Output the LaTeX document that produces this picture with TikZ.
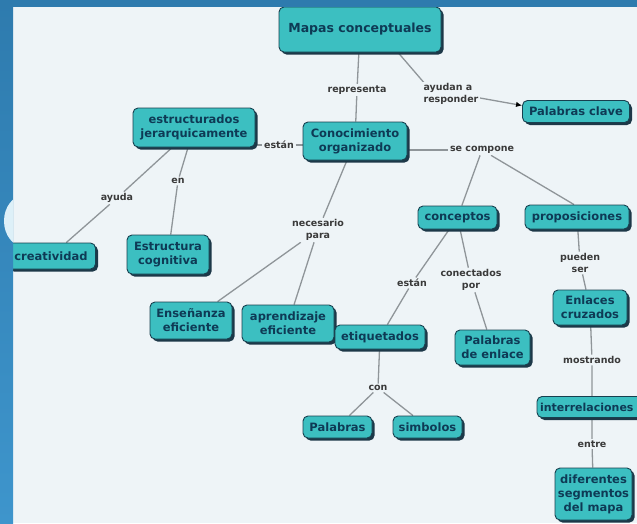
\documentclass[tikz,border=0pt]{standalone}
\usepackage{fontspec}
\setmainfont{DejaVu Sans}
\usetikzlibrary{shadows,arrows.meta}
\definecolor{bgc}{HTML}{EEF4F7}
\definecolor{blueA}{HTML}{2E7BAE}
\definecolor{blueB}{HTML}{3E95CC}
\definecolor{halo}{HTML}{DDF0F8}
\definecolor{boxfill}{HTML}{3CBFC1}
\definecolor{boxline}{HTML}{17404F}
\definecolor{shadowc}{HTML}{1D3848}
\definecolor{boxtext}{HTML}{0E3A55}
\definecolor{labtext}{HTML}{3A3A3A}
\definecolor{linec}{HTML}{8F9599}
\pgfdeclarelayer{back}
\pgfdeclarelayer{lines}
\pgfdeclarelayer{front}
\pgfsetlayers{back,lines,main,front}
\begin{document}
\begin{tikzpicture}[x=1pt,y=-1pt,
  box/.style={draw=boxline, fill=boxfill, line width=0.9pt, rounded corners=5pt,
    align=center, font=\bfseries\fontsize{11.5}{14}\selectfont, text=boxtext, inner sep=1pt,
    general shadow={fill=shadowc, shadow xshift=2.5pt, shadow yshift=-2.5pt}},
  lab/.style={font=\bfseries\fontsize{9.5}{12}\selectfont, text=labtext, fill=bgc,
    inner sep=1.5pt, align=center},
  conn/.style={draw=linec, line width=1.3pt}]
\useasboundingbox (0,0) rectangle (637,523);
\clip (0,0) rectangle (637,523);
\begin{pgfonlayer}{back}
  \fill[bgc] (0,0) rectangle (637,523);
\end{pgfonlayer}
% nodes
\node[box, minimum width=162pt, minimum height=45pt, font=\bfseries\fontsize{12.5}{15}\selectfont] (mapas) at (360,29.5) {Mapas conceptuales};
\node[box, minimum width=104pt, minimum height=38pt] (conoc) at (355,141) {Conocimiento\\organizado};
\node[box, minimum width=107pt, minimum height=22pt] (palclave) at (576,111.5) {Palabras clave};
\node[box, minimum width=122pt, minimum height=39pt] (estruct) at (194,127.5) {estructurados\\jerarquicamente};
\node[box, minimum width=89pt, minimum height=26pt] (creat) at (51,256) {creatividad};
\node[box, minimum width=82pt, minimum height=39pt] (estcog) at (168,254.5) {Estructura\\cognitiva};
\node[box, minimum width=79pt, minimum height=23pt] (conceptos) at (457.5,217.5) {conceptos};
\node[box, minimum width=104pt, minimum height=24pt] (propos) at (577,217) {proposiciones};
\node[box, minimum width=82pt, minimum height=37pt] (ensen) at (191,320.5) {Enseñanza\\eficiente};
\node[box, minimum width=92pt, minimum height=37pt] (aprend) at (288,323.5) {aprendizaje\\eficiente};
\node[box, minimum width=90pt, minimum height=24pt] (etiq) at (380,337) {etiquetados};
\node[box, minimum width=75pt, minimum height=35pt] (palenl) at (492.5,347.5) {Palabras\\de enlace};
\node[box, minimum width=74pt, minimum height=35pt] (enlaces) at (590,307.5) {Enlaces\\cruzados};
\node[box, minimum width=113pt, minimum height=21pt, text width=107pt, align=left, font=\bfseries\fontsize{11}{14}\selectfont] (interrel) at (593.5,407) {interrelaciones};
\node[box, minimum width=77pt, minimum height=52pt] (difer) at (593.5,494) {diferentes\\segmentos\\del mapa};
\node[box, minimum width=69pt, minimum height=22pt] (palabras) at (337.5,427) {Palabras};
\node[box, minimum width=69pt, minimum height=22pt] (simbolos) at (427.5,427) {simbolos};
% labels
\node[lab] (rep) at (357,90) {representa};
\node[lab, align=left] (ayud) at (451,94) {ayudan a\\responder};
\node[lab] (estan1) at (279,145) {están};
\node[lab] (secomp) at (482,150) {se compone};
\node[lab] (ayuda) at (117,198) {ayuda};
\node[lab] (en) at (178,181) {en};
\node[lab] (neces) at (318,230) {necesario\\para};
\node[lab] (estan2) at (412,283) {están};
\node[lab] (conect) at (471,280) {conectados\\por};
\node[lab] (pueden) at (580,263) {pueden\\ser};
\node[lab] (mostr) at (592,360) {mostrando};
\node[lab] (entre) at (592,444) {entre};
\node[lab] (con) at (378,388) {con};
% connectors
\begin{pgfonlayer}{lines}
\draw[conn] (mapas) -- (rep) -- (conoc);
\draw[conn] ([xshift=38pt]mapas.south) -- ([xshift=3pt,yshift=-2pt]ayud.north west);
\draw[conn] (estruct.east |- estan1) -- (estan1) -- (conoc.west |- estan1);
\draw[conn] (conoc.east |- secomp) -- (secomp);
\draw[conn] (secomp) -- (conceptos);
\draw[conn] (secomp) -- ([xshift=-3pt]propos.north);
\draw[conn] (estruct) -- (ayuda) -- (creat);
\draw[conn] (estruct) -- (en) -- (estcog);
\draw[conn] (conoc) -- (neces) -- (ensen);
\draw[conn] (neces) -- (aprend);
\draw[conn] (conceptos) -- (estan2) -- (etiq);
\draw[conn] (conceptos) -- (conect) -- (palenl);
\draw[conn] (propos) -- (pueden) -- (enlaces);
\draw[conn] (enlaces) -- (mostr) -- ([xshift=-1.5pt]interrel.north);
\draw[conn] ([xshift=-1.5pt]interrel.south) -- (entre) -- (difer);
\draw[conn] (etiq) -- (con) -- (palabras);
\draw[conn] (con) -- (simbolos);
\end{pgfonlayer}
\draw[conn, -{Latex[length=6pt,width=5.5pt,black]}] ([yshift=-4pt]ayud.east) -- ([yshift=6pt]palclave.west);
% frame
\begin{pgfonlayer}{front}
  \fill[blueA] (0,0) rectangle (637,6.5);
  \shade[top color=blueA, bottom color=blueB] (0,0) rectangle (13,523);
  \begin{scope}
    \clip (0,0) rectangle (13,523);
    \fill[halo] (25,221) ellipse [x radius=21pt, y radius=26pt];
  \end{scope}
\end{pgfonlayer}
\end{tikzpicture}
\end{document}
